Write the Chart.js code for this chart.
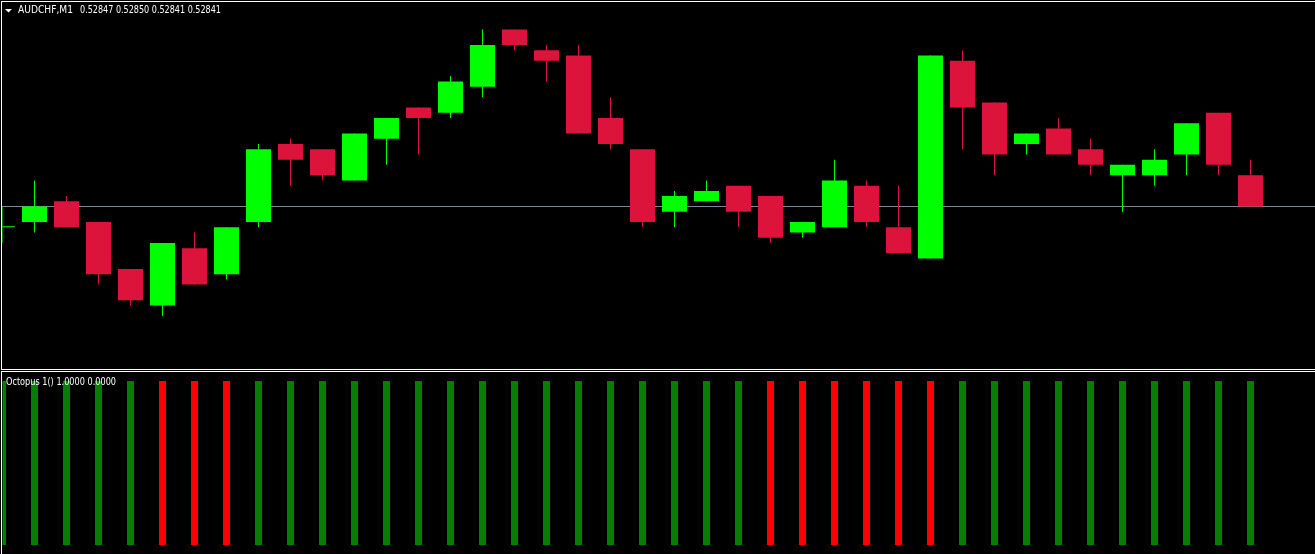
<!DOCTYPE html>
<html>
<head>
<meta charset="utf-8">
<title>AUDCHF,M1</title>
<script src="https://cdn.jsdelivr.net/npm/chart.js"></script>
<style>
  html, body { margin: 0; padding: 0; background: #000; overflow: hidden; }
  #wrap { position: relative; width: 1315px; height: 554px; background: #000; }
  canvas { position: absolute; left: 0; }
  #mainChart { top: 0; }
  #subChart { top: 370px; }
</style>
</head>
<body>
<div id="wrap">
  <canvas id="mainChart" width="1315" height="370"></canvas>
  <canvas id="subChart" width="1315" height="184"></canvas>
</div>
<script>
// AUDCHF M1 candles (oldest -> newest)
const opens = [
  0.52837, 0.52838, 0.52842, 0.52838, 0.52829, 0.52822, 0.52833, 0.52828, 0.52838, 0.52853,
  0.52852, 0.52846, 0.52854, 0.52860, 0.52859, 0.52864, 0.52875, 0.52871, 0.52870, 0.52858,
  0.52852, 0.52840, 0.52842, 0.52845, 0.52843, 0.52836, 0.52837, 0.52845, 0.52837, 0.52831,
  0.52869, 0.52861, 0.52853, 0.52856, 0.52852, 0.52847, 0.52847, 0.52851, 0.52859, 0.52847
];
const highs = [
  0.52841, 0.52846, 0.52843, 0.52838, 0.52829, 0.52834, 0.52836, 0.52837, 0.52853, 0.52854,
  0.52852, 0.52855, 0.52858, 0.52860, 0.52866, 0.52875, 0.52875, 0.52872, 0.52872, 0.52862,
  0.52852, 0.52844, 0.52846, 0.52845, 0.52843, 0.52838, 0.52850, 0.52846, 0.52845, 0.52870,
  0.52871, 0.52861, 0.52855, 0.52858, 0.52854, 0.52849, 0.52852, 0.52857, 0.52859, 0.52850
];
const lows = [
  0.52834, 0.52836, 0.52837, 0.52826, 0.52822, 0.52820, 0.52826, 0.52827, 0.52837, 0.52845,
  0.52846, 0.52846, 0.52849, 0.52851, 0.52858, 0.52862, 0.52871, 0.52865, 0.52855, 0.52852,
  0.52837, 0.52837, 0.52842, 0.52837, 0.52834, 0.52835, 0.52837, 0.52837, 0.52832, 0.52831,
  0.52852, 0.52847, 0.52851, 0.52851, 0.52847, 0.52840, 0.52845, 0.52847, 0.52847, 0.52841
];
const closes = [
  0.52837, 0.52841, 0.52837, 0.52828, 0.52823, 0.52834, 0.52826, 0.52837, 0.52852, 0.52850,
  0.52847, 0.52855, 0.52858, 0.52858, 0.52865, 0.52872, 0.52872, 0.52869, 0.52855, 0.52853,
  0.52838, 0.52843, 0.52844, 0.52840, 0.52835, 0.52838, 0.52846, 0.52838, 0.52832, 0.52870,
  0.52860, 0.52851, 0.52855, 0.52851, 0.52849, 0.52849, 0.52850, 0.52857, 0.52849, 0.52841
];
const bidPrice = 0.52841;
const symbolLabel = 'AUDCHF,M1';

// Octopus indicator buffers (green = up, red = down)
const octopusName = 'Octopus 1()';
const octopusUp = [
  1, 1, 1, 1, 1, 0, 0, 0, 1, 1,
  1, 1, 1, 1, 1, 1, 1, 1, 1, 1,
  1, 1, 1, 1, 0, 0, 0, 0, 0, 0,
  1, 1, 1, 1, 1, 1, 1, 1, 1, 1
];
const octopusDown = [
  0, 0, 0, 0, 0, 1, 1, 1, 0, 0,
  0, 0, 0, 0, 0, 0, 0, 0, 0, 0,
  0, 0, 0, 0, 1, 1, 1, 1, 1, 1,
  0, 0, 0, 0, 0, 0, 0, 0, 0, 0
];

// visible price window of the main pane
const priceTop = 0.52880666;
const priceBottom = 0.52809594;

const bullColor = '#00ff00';
const bearColor = '#dc143c';

// two empty slots on the right, like the chart shift in MT4
const labels = Array.from({ length: opens.length + 2 }, (_, i) => i);
const last = opens.length - 1;
const ohlcText = [opens[last], highs[last], lows[last], closes[last]].map(v => v.toFixed(5)).join(' ');
const octopusText = octopusName + ' ' + octopusUp[last].toFixed(4) + ' ' + octopusDown[last].toFixed(4);

const candleColors = closes.map((c, i) => (c >= opens[i] ? bullColor : bearColor));

// bid line behind candles, frame and texts on top
const mainDecor = {
  id: 'mainDecor',
  beforeDatasetsDraw(chart) {
    const ctx = chart.ctx;
    const y = Math.floor(chart.scales.y.getPixelForValue(bidPrice));
    ctx.save();
    ctx.fillStyle = '#778899';
    ctx.fillRect(2, y, chart.width - 2, 1);
    ctx.restore();
  },
  afterDraw(chart) {
    const ctx = chart.ctx;
    ctx.save();
    ctx.fillStyle = '#ffffff';
    ctx.fillRect(1, 1, chart.width - 1, 1);
    ctx.fillRect(1, 1, 1, chart.height - 1);
    ctx.fillRect(1, chart.height - 1, chart.width - 1, 1);
    // small ▼ before the symbol
    ctx.beginPath();
    ctx.moveTo(5, 9);
    ctx.lineTo(12, 9);
    ctx.lineTo(8.5, 12.5);
    ctx.closePath();
    ctx.fill();
    ctx.font = '10px "DejaVu Sans"';
    ctx.textBaseline = 'alphabetic';
    ctx.fillText(symbolLabel, 18, 13, 55);
    ctx.fillText(ohlcText, 80, 13, 141);
    ctx.restore();
  }
};

const subDecor = {
  id: 'subDecor',
  afterDraw(chart) {
    const ctx = chart.ctx;
    ctx.save();
    ctx.fillStyle = '#ffffff';
    ctx.fillRect(1, 1, chart.width - 1, 1);
    ctx.fillRect(1, 1, 1, chart.height - 1);
    ctx.font = '10px "DejaVu Sans"';
    ctx.textBaseline = 'alphabetic';
    ctx.fillText(octopusText, 6, 15, 110);
    ctx.restore();
  }
};

const hiddenX = { type: 'category', offset: false, display: false, grid: { display: false } };

new Chart(document.getElementById('mainChart'), {
  type: 'bar',
  data: {
    labels: labels,
    datasets: [
      {
        label: 'wicks',
        data: lows.map((l, i) => [l, highs[i]]),
        backgroundColor: candleColors,
        barThickness: 1,
        grouped: false,
        inflateAmount: 0,
        order: 2
      },
      {
        label: 'bodies',
        data: opens.map((o, i) => [o, closes[i]]),
        backgroundColor: candleColors,
        barThickness: 25,
        grouped: false,
        inflateAmount: 0,
        minBarLength: 1,
        order: 1
      }
    ]
  },
  options: {
    responsive: false,
    devicePixelRatio: 1,
    animation: false,
    layout: { padding: { left: 2.5, right: 0.5, top: 0, bottom: 0 } },
    scales: {
      x: hiddenX,
      y: { type: 'linear', min: priceBottom, max: priceTop, bounds: 'data', display: false }
    },
    plugins: {
      legend: { display: false },
      tooltip: { enabled: false }
    }
  },
  plugins: [mainDecor]
});

new Chart(document.getElementById('subChart'), {
  type: 'bar',
  data: {
    labels: labels,
    datasets: [
      {
        label: 'up',
        data: octopusUp,
        backgroundColor: '#008000',
        barThickness: 7,
        grouped: false,
        inflateAmount: 0
      },
      {
        label: 'down',
        data: octopusDown,
        backgroundColor: '#ff0000',
        barThickness: 7,
        grouped: false,
        inflateAmount: 0
      }
    ]
  },
  options: {
    responsive: false,
    devicePixelRatio: 1,
    animation: false,
    layout: { padding: { left: 2.5, right: 0.5, top: 11, bottom: 9 } },
    scales: {
      x: hiddenX,
      y: { type: 'linear', min: 0, max: 1, bounds: 'data', display: false }
    },
    plugins: {
      legend: { display: false },
      tooltip: { enabled: false }
    }
  },
  plugins: [subDecor]
});
</script>
</body>
</html>
